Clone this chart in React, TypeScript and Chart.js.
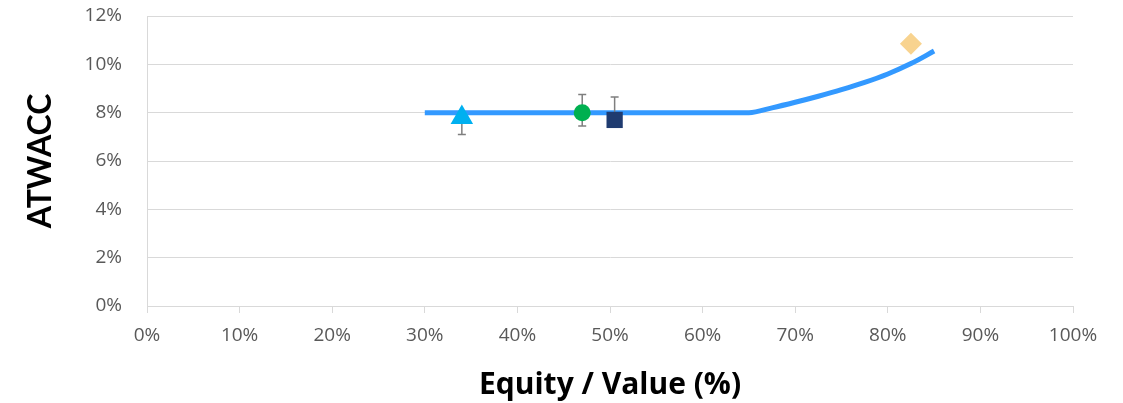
import React, { useEffect, useRef } from "react";
import { Chart, registerables } from "chart.js";

Chart.register(...registerables);

// Curve: ATWACC vs Equity / Value (percent units)
const curveX = [30, 35, 40, 45, 50, 55, 60, 65, 67.5, 70, 72.5, 75, 77.5, 80, 82.5, 85];
const curveY = [8, 8, 8, 8, 8, 8, 8, 8, 8.2, 8.43, 8.68, 8.95, 9.25, 9.6, 10.03, 10.55];

// Individual observations (x, y, error low, error high)
const triangleX = [34];
const triangleY = [7.8];
const triangleLow = [7.1];
const triangleHigh = [7.9];

const circleX = [47];
const circleY = [8.0];
const circleLow = [7.45];
const circleHigh = [8.75];

const squareX = [50.5];
const squareY = [7.7];
const squareLow = [7.4];
const squareHigh = [8.65];

const diamondX = [82.5];
const diamondY = [10.85];

const xTicks = [0, 10, 20, 30, 40, 50, 60, 70, 80, 90, 100];
const yTicks = [0, 2, 4, 6, 8, 10, 12];

const xTitle = "Equity / Value (%)";
const yTitle = "ATWACC";

const toPoints = (xs: number[], ys: number[]) => xs.map((x, i) => ({ x, y: ys[i] }));

const errorBarPlugin = {
  id: "errorBars",
  beforeDatasetDraw(chart: any, args: any) {
    const ds: any = chart.data.datasets[args.index];
    if (!ds.errLow || !ds.errHigh) return;
    const xs = chart.scales.x;
    const ys = chart.scales.y;
    const ctx = chart.ctx;
    ctx.save();
    ctx.strokeStyle = "#7F7F7F";
    ctx.lineWidth = 1.5;
    ds.data.forEach((p: any, i: number) => {
      const px = xs.getPixelForValue(p.x);
      const pl = ys.getPixelForValue(ds.errLow[i]);
      const ph = ys.getPixelForValue(ds.errHigh[i]);
      const cap = 4;
      ctx.beginPath();
      ctx.moveTo(px, pl);
      ctx.lineTo(px, ph);
      ctx.moveTo(px - cap, pl);
      ctx.lineTo(px + cap, pl);
      ctx.moveTo(px - cap, ph);
      ctx.lineTo(px + cap, ph);
      ctx.stroke();
    });
    ctx.restore();
  },
};

export default function App() {
  const ref = useRef<HTMLCanvasElement>(null);

  useEffect(() => {
    document.body.style.margin = "0";
    const canvas = ref.current;
    if (!canvas) return;
    const tickFont = { family: "Open Sans", size: 19 };
    const chart = new Chart(canvas, {
      type: "scatter",
      data: {
        datasets: [
          {
            label: "ATWACC curve",
            type: "line",
            data: toPoints(curveX, curveY),
            borderColor: "#3399FF",
            borderWidth: 5,
            pointRadius: 0,
            cubicInterpolationMode: "monotone",
            fill: false,
            order: 5,
          } as any,
          {
            label: "A",
            data: toPoints(triangleX, triangleY),
            pointStyle: "triangle",
            pointRadius: 13,
            backgroundColor: "#00B0F0",
            borderColor: "#00B0F0",
            borderWidth: 0,
            errLow: triangleLow,
            errHigh: triangleHigh,
            order: 1,
          } as any,
          {
            label: "B",
            data: toPoints(circleX, circleY),
            pointStyle: "circle",
            pointRadius: 8.5,
            backgroundColor: "#00B050",
            borderColor: "#00B050",
            borderWidth: 0,
            errLow: circleLow,
            errHigh: circleHigh,
            order: 1,
          } as any,
          {
            label: "C",
            data: toPoints(squareX, squareY),
            pointStyle: "rect",
            pointRadius: 11.5,
            backgroundColor: "#1F3B70",
            borderColor: "#1F3B70",
            borderWidth: 0,
            errLow: squareLow,
            errHigh: squareHigh,
            order: 1,
          } as any,
          {
            label: "D",
            data: toPoints(diamondX, diamondY),
            pointStyle: "rectRot",
            pointRadius: 11,
            backgroundColor: "#F8D38F",
            borderColor: "#F8D38F",
            borderWidth: 0,
            order: 1,
          } as any,
        ],
      },
      options: {
        animation: false,
        responsive: true,
        maintainAspectRatio: false,
        layout: { padding: { top: 16, right: 50, bottom: 0, left: 0 } },
        plugins: {
          legend: { display: false },
          tooltip: { enabled: false },
        },
        scales: {
          x: {
            type: "linear",
            min: 0,
            max: 100,
            afterBuildTicks: (s: any) => {
              s.ticks = xTicks.map((v) => ({ value: v }));
            },
            afterFit: (s: any) => {
              s.height = 97;
            },
            ticks: {
              callback: (v: any) => v + "%",
              color: "#595959",
              font: tickFont,
              padding: 11,
              maxRotation: 0,
              autoSkip: false,
            },
            grid: {
              drawOnChartArea: false,
              drawTicks: true,
              tickLength: 7,
              color: "#D9D9D9",
            },
            border: { color: "#D9D9D9", width: 1 },
            title: {
              display: true,
              text: xTitle,
              color: "#000000",
              font: { family: "Open Sans", size: 30, weight: "bold" },
              padding: { top: 0, bottom: 0 },
            },
          },
          y: {
            type: "linear",
            min: 0,
            max: 12,
            afterBuildTicks: (s: any) => {
              s.ticks = yTicks.map((v) => ({ value: v }));
            },
            afterFit: (s: any) => {
              s.width = 147;
            },
            ticks: {
              callback: (v: any) => v + "%",
              color: "#595959",
              font: tickFont,
              padding: 3,
            },
            grid: {
              drawTicks: true,
              tickLength: 22,
              tickColor: "rgba(0,0,0,0)",
              color: "#D9D9D9",
              lineWidth: 1,
            },
            border: { color: "#D9D9D9", width: 1 },
            title: {
              display: true,
              text: yTitle,
              color: "#000000",
              font: { family: "Lato", size: 32, weight: "bold" },
              padding: { top: 21, bottom: 0 },
            },
          },
        },
      },
      plugins: [errorBarPlugin],
    } as any);
    return () => chart.destroy();
  }, []);

  return (
    <div style={{ width: 1123, height: 403, position: "relative" }}>
      <canvas ref={ref} />
    </div>
  );
}
